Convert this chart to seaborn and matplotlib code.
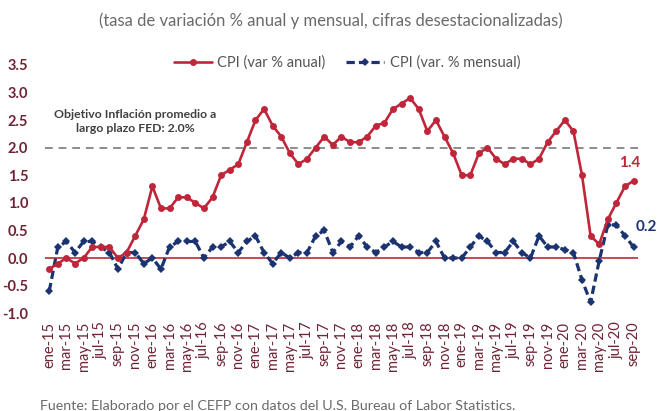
import matplotlib
matplotlib.use("Agg")
import matplotlib.pyplot as plt
import seaborn as sns
import pandas as pd
import numpy as np
from matplotlib.lines import Line2D

months = ["ene", "feb", "mar", "abr", "may", "jun", "jul", "ago", "sep", "oct", "nov", "dic"]
years = ["15", "16", "17", "18", "19", "20"]
periods = [f"{m}-{y}" for y in years for m in months][:69]

cpi_anual = [
    -0.2, -0.1, 0.0, -0.1, 0.0, 0.2, 0.2, 0.2, 0.0, 0.1, 0.4, 0.7,
    1.3, 0.9, 0.9, 1.1, 1.1, 1.0, 0.9, 1.1, 1.5, 1.6, 1.7, 2.1,
    2.5, 2.7, 2.4, 2.2, 1.9, 1.7, 1.8, 2.0, 2.2, 2.05, 2.2, 2.1,
    2.1, 2.2, 2.4, 2.45, 2.7, 2.8, 2.9, 2.7, 2.3, 2.5, 2.2, 1.9,
    1.5, 1.5, 1.9, 2.0, 1.8, 1.7, 1.8, 1.8, 1.7, 1.8, 2.1, 2.3,
    2.5, 2.3, 1.5, 0.4, 0.25, 0.7, 1.0, 1.3, 1.4,
]
cpi_mensual = [
    -0.6, 0.2, 0.3, 0.1, 0.3, 0.3, 0.2, 0.1, -0.2, 0.1, 0.1, -0.1,
    0.0, -0.2, 0.2, 0.3, 0.3, 0.3, 0.0, 0.2, 0.2, 0.3, 0.1, 0.3,
    0.4, 0.1, -0.1, 0.1, 0.0, 0.1, 0.1, 0.4, 0.5, 0.1, 0.3, 0.2,
    0.4, 0.2, 0.1, 0.2, 0.3, 0.2, 0.2, 0.1, 0.1, 0.3, 0.0, 0.0,
    0.0, 0.2, 0.4, 0.3, 0.1, 0.1, 0.3, 0.1, 0.0, 0.4, 0.2, 0.2,
    0.15, 0.1, -0.4, -0.8, -0.05, 0.6, 0.6, 0.4, 0.2,
]
y_ticks = [-1.0, -0.5, 0.0, 0.5, 1.0, 1.5, 2.0, 2.5, 3.0, 3.5]
objetivo = 2.0

title = "(tasa de variación % anual y mensual, cifras desestacionalizadas)"
nota_obj = "Objetivo Inflación promedio a\nlargo plazo FED: 2.0%"
fuente = "Fuente: Elaborado por el CEFP con datos del U.S. Bureau of Labor Statistics."
lbl_anual = "CPI (var % anual)"
lbl_mensual = "CPI (var. % mensual)"

sns.set_theme(style="white")
plt.rcParams["font.family"] = ["Lato", "DejaVu Sans"]

RED = "#C0263A"
NAVY = "#1B3370"
MAROON = "#6E2434"
GRAY = "#6a6a6a"
DASH = (0, (2.6, 1.3))

df = pd.DataFrame({"idx": np.arange(len(periods)), "periodo": periods,
                   "anual": cpi_anual, "mensual": cpi_mensual})

fig = plt.figure(figsize=(6.61, 4.11), dpi=100)
ax = fig.add_axes([0.068, 0.238, 0.897, 0.604])

ax.axhline(objetivo, color="#8c8c8c", lw=1.4, ls=(0, (4, 3)), zorder=1)
ax.axhline(0, color=RED, lw=1.2, zorder=1)

sns.lineplot(data=df, x="idx", y="anual", ax=ax, color=RED, lw=1.9,
             marker="o", markersize=5, markeredgewidth=0, zorder=3)
sns.lineplot(data=df, x="idx", y="mensual", ax=ax, color=NAVY, lw=2.3,
             marker="D", markersize=4, markeredgewidth=0, zorder=2)
ax.lines[-1].set_linestyle(DASH)

ax.set_xlim(-0.5, len(periods) - 0.5)
ax.set_ylim(-1.0, 3.5)
ax.set_yticks(y_ticks)
ax.set_yticklabels([f"{v:.1f}" for v in y_ticks], fontsize=10.5, fontweight="bold", color=MAROON)
xt = list(range(0, len(periods), 2))
ax.set_xticks(xt)
ax.set_xticklabels([periods[i] for i in xt], rotation=90, fontsize=10.5, color=MAROON)
ax.tick_params(axis="x", length=0, pad=6)
ax.tick_params(axis="y", length=0, pad=12)
ax.set_xlabel("")
ax.set_ylabel("")
for s in ax.spines.values():
    s.set_visible(False)

ax.text(10.0, 2.47, nota_obj, ha="center", va="center", fontsize=8.8,
        fontweight="bold", color="#404040", linespacing=1.35)
last = len(periods) - 1
ax.text(last - 0.4, cpi_anual[-1] + 0.32, f"{cpi_anual[-1]:.1f}", ha="center", va="center",
        fontsize=11, fontweight="bold", color=RED)
ax.text(last + 1.5, cpi_mensual[-1] + 0.37, f"{cpi_mensual[-1]:.1f}", ha="center", va="center",
        fontsize=11, fontweight="bold", color=NAVY)

handles = [
    Line2D([0], [0], color=RED, lw=1.9, marker="o", markersize=5, markeredgewidth=0),
    Line2D([0], [0], color=NAVY, lw=2.3, ls=DASH, marker="D", markersize=4, markeredgewidth=0),
]
fig.legend(handles, [lbl_anual, lbl_mensual], loc="center", bbox_to_anchor=(0.525, 0.848),
           ncol=2, frameon=False, fontsize=10.5, handlelength=2.6, columnspacing=1.4,
           handletextpad=0.4, labelcolor="#555555")

fig.text(0.5, 0.95, title, ha="center", va="center", fontsize=12, color=GRAY)
fig.text(0.06, 0.012, fuente, ha="left", va="center", fontsize=10.3, color=GRAY)

fig.savefig("out.png", dpi=100)
